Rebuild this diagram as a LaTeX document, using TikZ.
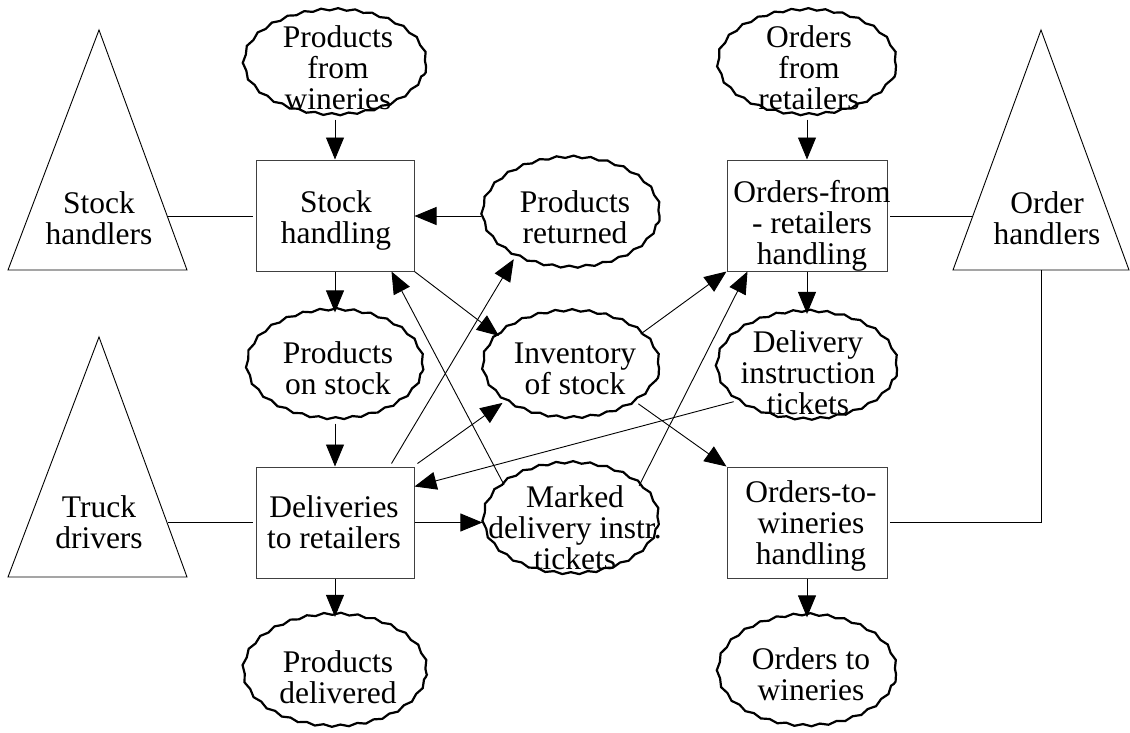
\documentclass[tikz,border=0pt]{standalone}
\usepackage{fontspec}
\setmainfont{Liberation Serif}
\newfontfamily\tnr{Liberation Serif}
\usetikzlibrary{shapes.geometric,arrows.meta,decorations.pathmorphing,calc}
\begin{document}
\begin{tikzpicture}[x=1pt,y=-1pt,
  blob/.style={ellipse, draw, line width=2.2pt, decorate,
    decoration={snake, amplitude=1.1pt, segment length=17pt}, inner sep=0pt},
  proc/.style={rectangle, draw=black!75, line width=1pt, minimum height=111pt, inner sep=0pt},
  txt/.style={align=center, font=\tnr\fontsize{31.5}{31}\selectfont, inner sep=0pt, text depth=0pt},
  flow/.style={line width=0.9pt, -{Triangle[length=22pt,width=18pt]}},
  link/.style={line width=0.9pt},
  agent/.style={line width=0.9pt, line join=miter}
]
\useasboundingbox (0,0) rectangle (1130,732);

% ---- stores (wavy ellipses)
\node[blob, minimum width=182pt, minimum height=105pt] (pfw) at (335,66) {};
\node[blob, minimum width=177pt, minimum height=110pt] (pr)  at (571,216) {};
\node[blob, minimum width=176pt, minimum height=109pt] (pos) at (335,368) {};
\node[blob, minimum width=176pt, minimum height=107pt] (inv) at (571,368) {};
\node[blob, minimum width=175pt, minimum height=111pt] (mdt) at (571,522) {};
\node[blob, minimum width=183pt, minimum height=112pt] (pd)  at (335,674) {};
\node[blob, minimum width=178pt, minimum height=105pt] (ofr) at (807,66) {};
\node[blob, minimum width=180pt, minimum height=108pt] (dit) at (807,369) {};
\node[blob, minimum width=178pt, minimum height=111pt] (otw) at (807,674) {};

% ---- processes (boxes)
\node[proc, minimum width=158pt] (sh)  at (335,215.5) {};
\node[proc, minimum width=158pt] (dr)  at (335,522.5) {};
\node[proc, minimum width=160pt] (ofh) at (807,215.5) {};
\node[proc, minimum width=160pt] (owh) at (807,522.5) {};

% ---- texts
\node[txt] (pfw-t) at (338,68)    {Products\\from\\wineries};
\node[txt] (pr-t)  at (575,217.5) {Products\\returned};
\node[txt] (pos-t) at (338,368)   {Products\\on stock};
\node[txt] (inv-t) at (575,368.5) {Inventory\\of stock};
\node[txt] (mdt-t) at (575,528)   {Marked\\delivery instr.\\tickets};
\node[txt] (pd-t)  at (338,677)   {Products\\delivered};
\node[txt] (ofr-t) at (809,68)    {Orders\\from\\retailers};
\node[txt] (dit-t) at (808,373)   {Delivery\\instruction\\tickets};
\node[txt] (otw-t) at (811,674.5) {Orders to\\wineries};
\node[txt] (sh-t)  at (336,217.5) {Stock\\handling};
\node[txt] (dr-t)  at (334,522)   {Deliveries\\to retailers};
\node[txt] (ofh-t) at (812,222)   {Orders-from\\- retailers\\handling};
\node[txt] (owh-t) at (811,522.5) {Orders-to-\\wineries\\handling};

% ---- agents (triangles)
\draw[agent] (99,30) -- (187,270) -- (8,270) -- cycle;
\node[txt] (shr) at (99,218) {Stock\\handlers};
\draw[agent] (99,337) -- (187,577) -- (8,577) -- cycle;
\node[txt] (tdr) at (99,522) {Truck\\drivers};
\draw[agent] (1041,30) -- (1129,270) -- (953,270) -- cycle;
\node[txt] (ohr) at (1047,218) {Order\\handlers};

\coordinate (shr-e) at (167,216);
\coordinate (tdr-e) at (168,522);
\coordinate (ohr-w) at (973,216);
\coordinate (ohr-b) at (1041,270);

\draw[link] (shr-e) -- ([xshift=-3pt]shr-e -| sh.west);
\draw[link] (tdr-e) -- ([xshift=-3pt]tdr-e -| dr.west);
\draw[link] (ohr-w) -- ([xshift=2pt]ohr-w -| ofh.east);
\draw[link] (ohr-b) |- ([xshift=2pt]owh.east);

% ---- vertical flows
\draw[flow] (pfw) -- (sh);
\draw[flow] (sh) -- (pos);
\draw[flow] (pos) -- (dr);
\draw[flow] (dr) -- (pd);
\draw[flow] (ofr) -- (ofh);
\draw[flow] (ofh) -- (dit);
\draw[flow] (owh) -- (otw);

% ---- horizontal flows
\draw[flow] (pr.west) -- (pr.west -| sh.east);
\draw[flow] (dr.east) -- (dr.east -| mdt.west);

% ---- diagonal flows
\draw[flow] (sh.south east) -- (inv.156);
\draw[flow] ([xshift=-23pt,yshift=3pt]dr.north east) -- (pr.217);
\draw[flow] ([xshift=3pt,yshift=3pt]dr.north east) -- (inv.207);
\draw[flow] (mdt.151) -- ([xshift=-23pt]sh.south east);
\draw[flow] (mdt.28) -- ([xshift=21pt]ofh.south west);
\draw[flow] (inv.26) -- (ofh.south west);
\draw[flow] (dit.204) -- ([yshift=-20pt]dr.north east);
\draw[flow] (inv.332) -- (owh.north west);
\end{tikzpicture}
\end{document}
